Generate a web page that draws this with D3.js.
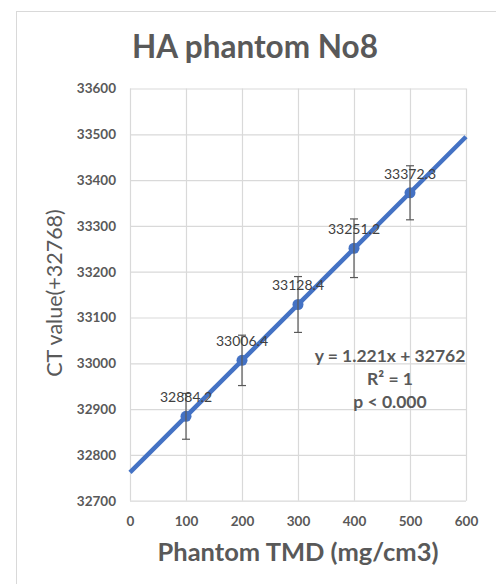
<!DOCTYPE html>
<html><head><meta charset="utf-8">
<script src="https://cdn.jsdelivr.net/npm/d3@7"></script>
<style>
html,body{margin:0;padding:0;background:#fff;}
svg{display:block;}
text{font-family:Lato,"Open Sans",sans-serif;}
</style></head>
<body>
<script>
const tmd = [100, 200, 300, 400, 500];
const ctValues = [32884.2, 33006.4, 33128.4, 33251.2, 33372.3];
const ctLabels = ["32884.2", "33006.4", "33128.4", "33251.2", "33372.3"];
const errors = [50, 55, 61, 64, 59];
const xTicks = [0, 100, 200, 300, 400, 500, 600];
const yTicks = [32700, 32800, 32900, 33000, 33100, 33200, 33300, 33400, 33500, 33600];
const slope = 1.221, intercept = 32762;
const eqLines = ["y = 1.221x + 32762", "R² = 1", "p < 0.000"];

const W = 496, H = 584;
const svg = d3.select("body").append("svg").attr("width", W).attr("height", H);
svg.append("rect").attr("x", 16.5).attr("y", 11.5).attr("width", 600).attr("height", 700)
  .attr("fill", "#fff").attr("stroke", "#d9d9d9").attr("stroke-width", 1);

const x = d3.scaleLinear().domain([0, 600]).range([130, 466]);
const y = d3.scaleLinear().domain([32700, 33600]).range([500.7, 88.5]);
const gray = "#595959";

// gridlines
const gx = svg.append("g").attr("transform", `translate(0,${y(32700)})`)
  .call(d3.axisBottom(x).tickValues(xTicks).tickSize(-(y(32700) - y(33600))).tickFormat(""));
const gy = svg.append("g").attr("transform", `translate(${x(0)},0)`)
  .call(d3.axisLeft(y).tickValues(yTicks).tickSize(-(x(600) - x(0))).tickFormat(""));
[gx, gy].forEach(g => {
  g.select(".domain").remove();
  g.selectAll("line").attr("stroke", "#d9d9d9").attr("stroke-width", 1.2);
});

// tick labels
const ax = svg.append("g").attr("transform", `translate(0,${y(32700)})`)
  .call(d3.axisBottom(x).tickValues(xTicks).tickSize(0).tickPadding(16).tickFormat(d3.format("d")));
const ay = svg.append("g").attr("transform", `translate(${x(0)},0)`)
  .call(d3.axisLeft(y).tickValues(yTicks).tickSize(0).tickPadding(14).tickFormat(d3.format("d")));
[ax, ay].forEach(g => {
  g.select(".domain").remove();
  g.selectAll("text").attr("fill", gray).attr("font-family", "Lato, sans-serif")
    .attr("font-weight", "bold").attr("font-size", 13.5);
});

// trend line
svg.append("line")
  .attr("x1", x(0)).attr("y1", y(intercept))
  .attr("x2", x(600)).attr("y2", y(intercept + slope * 600))
  .attr("stroke", "#4472C4").attr("stroke-width", 4.5).attr("stroke-linecap", "butt");

// markers
svg.append("g").selectAll("circle").data(tmd).join("circle")
  .attr("cx", d => x(d)).attr("cy", (d, i) => y(ctValues[i])).attr("r", 5.5)
  .attr("fill", "#4472C4");

// error bars
const eb = svg.append("g").attr("stroke", "#595959").attr("stroke-width", 1.2);
tmd.forEach((d, i) => {
  const cx = x(d), top = y(ctValues[i] + errors[i]), bot = y(ctValues[i] - errors[i]);
  eb.append("line").attr("x1", cx).attr("x2", cx).attr("y1", top).attr("y2", bot);
  eb.append("line").attr("x1", cx - 4).attr("x2", cx + 4).attr("y1", top).attr("y2", top);
  eb.append("line").attr("x1", cx - 4).attr("x2", cx + 4).attr("y1", bot).attr("y2", bot);
});

// data labels
svg.append("g").selectAll("text").data(tmd).join("text")
  .attr("x", d => x(d)).attr("y", (d, i) => y(ctValues[i]) - 14)
  .attr("text-anchor", "middle").attr("font-size", 14).attr("fill", "#404040")
  .text((d, i) => ctLabels[i]);

// equation
svg.append("g").selectAll("text").data(eqLines).join("text")
  .attr("x", 390).attr("y", (d, i) => 362 + i * 23)
  .attr("text-anchor", "middle").attr("font-size", 17.5).attr("font-weight", "bold")
  .attr("fill", gray).text(d => d);

// title
svg.append("text").attr("x", 255).attr("y", 58).attr("text-anchor", "middle")
  .attr("font-size", 31.5).attr("font-weight", "bold").attr("fill", gray)
  .text("HA phantom No8");

// x axis title
svg.append("text").attr("x", 298).attr("y", 561).attr("text-anchor", "middle")
  .attr("font-size", 25.5).attr("font-weight", "bold").attr("fill", gray)
  .text("Phantom TMD (mg/cm3)");

// y axis title
svg.append("text").attr("transform", "translate(62,293) rotate(-90)")
  .attr("text-anchor", "middle").attr("font-size", 21.5).attr("fill", gray)
  .text("CT value(+32768)");
</script>
</body></html>
